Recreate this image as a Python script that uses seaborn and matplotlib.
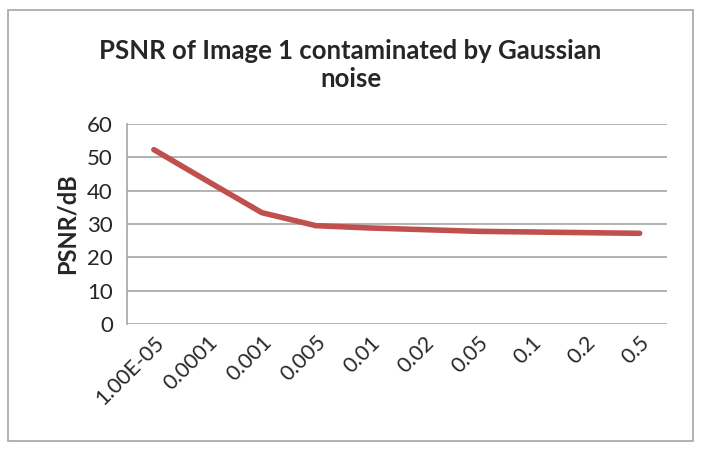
import matplotlib
matplotlib.use("Agg")
import matplotlib.pyplot as plt
import seaborn as sns
import pandas as pd
from matplotlib.patches import Rectangle

# noise variance levels and measured PSNR values
noise_levels = ["1.00E-05", "0.0001", "0.001", "0.005", "0.01",
                "0.02", "0.05", "0.1", "0.2", "0.5"]
psnr_db = [52.3, 42.8, 33.4, 29.5, 28.8, 28.3, 27.8, 27.6, 27.4, 27.2]

df = pd.DataFrame({"noise": noise_levels, "psnr": psnr_db})

sns.set_style("white")
plt.rcParams['font.family'] = ['Lato', 'DejaVu Sans']

fig = plt.figure(figsize=(7.01, 4.51), dpi=100)
ax = fig.add_axes([0.181, 0.2816, 0.770, 0.4435])

sns.lineplot(data=df, x="noise", y="psnr", sort=False, color="#C0504D",
             linewidth=4, ax=ax)

ax.set_xlim(-0.5, len(noise_levels) - 0.5)
ax.set_ylim(0, 60)
ax.set_yticks(range(0, 61, 10))
ax.yaxis.grid(True, color="#A6A6A6", linewidth=1.2)
ax.xaxis.grid(False)
for side in ["top", "right", "bottom"]:
    ax.spines[side].set_visible(False)
ax.spines["left"].set_color("#A6A6A6")
ax.spines["left"].set_linewidth(1.2)

ax.set_xticks(range(len(noise_levels)))
ax.set_xticklabels(noise_levels, rotation=45, ha="right", rotation_mode="anchor",
                   fontsize=15.5)
ax.tick_params(axis="y", labelsize=16, length=0, pad=10)
ax.tick_params(axis="x", length=0, pad=6)
ax.set_xlabel("")
ax.set_ylabel("PSNR/dB", fontsize=17, fontweight="bold", labelpad=6)

fig.text(0.5, 0.855, "PSNR of Image 1 contaminated by Gaussian\nnoise",
         ha="center", va="center", fontsize=18.5, fontweight="bold",
         linespacing=1.2)

fig.patches.append(Rectangle((8 / 701, 10 / 451), 685 / 701, 431 / 451,
                             transform=fig.transFigure, fill=False,
                             edgecolor="#A6A6A6", linewidth=1.2))

fig.savefig("out.png", dpi=100)
